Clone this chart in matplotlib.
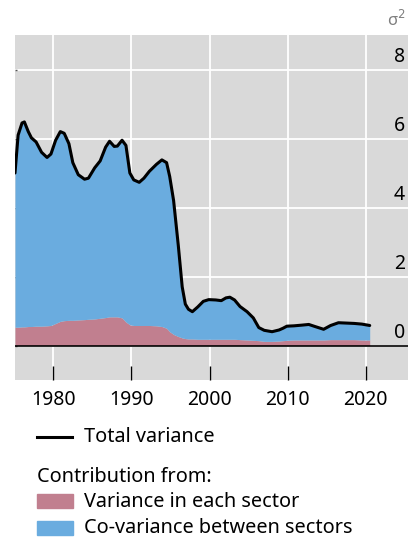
import matplotlib
matplotlib.use("Agg")
import matplotlib.pyplot as plt
from matplotlib.lines import Line2D
from matplotlib.patches import Rectangle

plt.rcParams["font.family"] = ["Noto Sans", "DejaVu Sans"]

# values
years = [
    1975.1, 1975.5, 1976.0, 1976.3, 1976.8, 1977.2, 1977.8, 1978.5, 1979.2, 1979.7,
    1980.3, 1980.9, 1981.4, 1982.0, 1982.5, 1983.2, 1984.0, 1984.5, 1985.3, 1986.0,
    1986.7, 1987.2, 1987.8, 1988.2, 1988.8, 1989.3, 1989.8, 1990.3, 1991.0, 1991.6,
    1992.3, 1993.2, 1993.9, 1994.5, 1994.9, 1995.4, 1996.0, 1996.5, 1996.9, 1997.3,
    1997.8, 1998.5, 1999.2, 1999.9, 2000.8, 2001.5, 2002.1, 2002.6, 2003.2, 2003.9,
    2004.8, 2005.6, 2006.3, 2007.0, 2008.0, 2008.9, 2009.4, 2009.9, 2010.8, 2011.8,
    2012.7, 2013.5, 2014.6, 2015.5, 2016.5, 2017.5, 2018.5, 2019.5, 2020.5,
]
total_variance = [
    5.00, 6.10, 6.45, 6.48, 6.20, 6.02, 5.90, 5.60, 5.45, 5.55,
    5.95, 6.20, 6.15, 5.85, 5.30, 4.95, 4.82, 4.85, 5.15, 5.35,
    5.75, 5.92, 5.77, 5.78, 5.95, 5.80, 5.00, 4.80, 4.73, 4.85,
    5.05, 5.25, 5.38, 5.30, 4.90, 4.20, 2.90, 1.70, 1.20, 1.05,
    0.98, 1.12, 1.28, 1.33, 1.32, 1.30, 1.38, 1.40, 1.32, 1.13,
    0.98, 0.80, 0.52, 0.44, 0.40, 0.45, 0.50, 0.56, 0.57, 0.59,
    0.61, 0.55, 0.47, 0.58, 0.66, 0.65, 0.64, 0.62, 0.58,
]
within_sector = [
    0.53, 0.53, 0.54, 0.54, 0.55, 0.55, 0.56, 0.56, 0.57, 0.58,
    0.64, 0.70, 0.72, 0.73, 0.73, 0.74, 0.75, 0.76, 0.77, 0.79,
    0.81, 0.83, 0.83, 0.83, 0.80, 0.68, 0.60, 0.58, 0.58, 0.58,
    0.58, 0.57, 0.55, 0.50, 0.40, 0.32, 0.26, 0.22, 0.20, 0.19,
    0.19, 0.18, 0.18, 0.18, 0.18, 0.18, 0.18, 0.18, 0.18, 0.17,
    0.16, 0.15, 0.14, 0.12, 0.12, 0.13, 0.14, 0.15, 0.16, 0.16,
    0.16, 0.16, 0.16, 0.17, 0.17, 0.17, 0.17, 0.16, 0.16,
]
x_ticks = [1980, 1990, 2000, 2010, 2020]
y_ticks = [0, 2, 4, 6, 8]

BLUE = "#6aacdf"
PINK = "#c17f8f"
GREY_BG = "#d9d9d9"

W, H = 411, 538
fig = plt.figure(figsize=(W / 100, H / 100), dpi=100)
ax = fig.add_axes([15 / W, 1 - 380 / H, 393 / W, 345 / H])
ax.set_facecolor(GREY_BG)

ax.fill_between(years, 0, within_sector, color=PINK, linewidth=0, zorder=2)
ax.fill_between(years, within_sector, total_variance, color=BLUE, linewidth=0, zorder=2)
ax.plot(years, total_variance, color="black", linewidth=2.2, solid_joinstyle="round",
        solid_capstyle="round", zorder=4)
ax.axhline(0, color="black", linewidth=1.2, zorder=3)

ax.set_xlim(1975.1, 2025.4)
ax.set_ylim(-1, 9)
ax.set_xticks(x_ticks)
ax.set_yticks(y_ticks)
ax.grid(True, color="white", linewidth=1.3, zorder=1)
ax.set_axisbelow(True)
for s in ax.spines.values():
    s.set_visible(False)

ax.tick_params(axis="x", direction="in", length=10, width=1, color="black",
               labelsize=14, pad=7)
ax.tick_params(axis="y", direction="in", length=1.5, width=1, color="#555555",
               labelleft=False)

for v in y_ticks:
    ax.text(0.992, v + 0.36, str(v), transform=ax.get_yaxis_transform(),
            ha="right", va="center", fontsize=14, color="black")

fig.text(406 / W, 1 - 20 / H, "σ$^2$", ha="right", va="center", fontsize=12, color="#7f7f7f")

# legend drawn by hand below the axes
def fy(py):
    return 1 - py / H

fig.add_artist(Line2D([37 / W, 72 / W], [fy(437), fy(437)], color="black", linewidth=2.2,
                      transform=fig.transFigure))
fig.text(84 / W, fy(437), "Total variance", ha="left", va="center", fontsize=14.3)
fig.text(37 / W, fy(477), "Contribution from:", ha="left", va="center", fontsize=14.3)
fig.add_artist(Rectangle((37 / W, fy(508)), 36 / W, 14 / H, color=PINK,
                         transform=fig.transFigure))
fig.text(84 / W, fy(502), "Variance in each sector", ha="left", va="center", fontsize=14.3)
fig.add_artist(Rectangle((37 / W, fy(535)), 36 / W, 14 / H, color=BLUE,
                         transform=fig.transFigure))
fig.text(84 / W, fy(528), "Co-variance between sectors", ha="left", va="center", fontsize=14.3)

fig.savefig("out.png", dpi=100)
